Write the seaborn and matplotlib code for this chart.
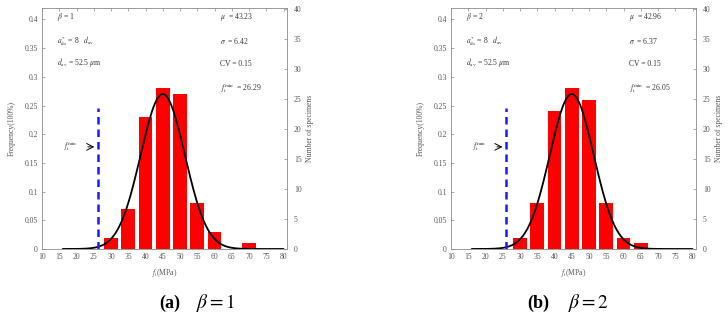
import numpy as np
import pandas as pd
import matplotlib
matplotlib.use('Agg')
import matplotlib.pyplot as plt
import seaborn as sns
from matplotlib.ticker import FormatStrFormatter

# bin centres (MPa) and frequencies
bins_a = [30, 35, 40, 45, 50, 55, 60, 65, 70]
freq_a = [0.02, 0.07, 0.23, 0.28, 0.27, 0.08, 0.03, 0.0, 0.01]
bins_b = [30, 35, 40, 45, 50, 55, 60, 65, 70]
freq_b = [0.02, 0.08, 0.24, 0.28, 0.26, 0.08, 0.02, 0.01, 0.0]

# fitted normal curve as drawn (centre / peak, sigma from labels)
curve_centre = [45.0, 45.0]
curve_peak = [0.27, 0.27]
sigma = [6.42, 6.37]
mu = [43.23, 42.96]
cv = [0.15, 0.15]
ft_min = [26.29, 26.05]
betas = [1, 2]
letters = ['a', 'b']

sns.set_theme(style='white')
plt.rcParams['font.family'] = ['Liberation Serif', 'DejaVu Serif']
plt.rcParams['mathtext.fontset'] = 'stix'

fig = plt.figure(figsize=(7.28, 3.22), dpi=100)
grey = '#8a8a8a'
fs = 5.5

lefts = [42 / 728, 451 / 728]
for i in range(2):
    ax = fig.add_axes([lefts[i], 1 - 249 / 322, 245 / 728, 241 / 322])
    bins = bins_a if i == 0 else bins_b
    freq = freq_a if i == 0 else freq_b
    df = pd.DataFrame({'x': bins, 'f': freq})
    sns.barplot(data=df, x='x', y='f', native_scale=True, width=0.8,
                color='red', saturation=1, edgecolor='none', ax=ax)

    xs = np.linspace(16, 80, 300)
    ys = curve_peak[i] * np.exp(-(xs - curve_centre[i]) ** 2 / (2 * sigma[i] ** 2))
    sns.lineplot(x=xs, y=ys, color='black', linewidth=1.3, ax=ax)

    ax.plot([ft_min[i], ft_min[i]], [0, 0.245], color='#1a1aff', linewidth=1.8,
            linestyle=(0, (3, 2)))

    ax.set_xlim(10, 81)
    ax.set_ylim(0, 0.42)
    ax.set_xticks(range(10, 81, 5))
    ax.set_yticks(np.arange(0, 0.41, 0.05))
    ax.yaxis.set_major_formatter(FormatStrFormatter('%g'))
    ax.tick_params(direction='in', length=2, width=0.5, colors=grey, labelsize=fs,
                   labelcolor='#555555', top=True, pad=3)
    for s in ax.spines.values():
        s.set_color(grey)
        s.set_linewidth(0.6)
    ax.set_xlabel(r'$f_{\rm t}$(MPa)', fontsize=fs, color='#555555', labelpad=4)
    ax.set_ylabel('Frequency(100%)', fontsize=fs, color='#555555', labelpad=6)

    ax2 = ax.twinx()
    ax2.set_ylim(0, 40.2)
    ax2.set_yticks(range(0, 41, 5))
    ax2.tick_params(direction='in', length=2, width=0.5, colors=grey, labelsize=fs,
                    labelcolor='#555555', pad=5)
    for s in ax2.spines.values():
        s.set_visible(False)
    ax2.set_ylabel('Number of specimens', fontsize=fs, color='#555555', rotation=90,
                   labelpad=3)
    ax2.grid(False)

    tc = '#333333'
    ax.text(14.3, 0.405, r'$\beta$ = %d' % betas[i], fontsize=fs, color=tc, va='center')
    ax.text(14.3, 0.362, r'$a^{*}_{\rm ds}$ = 8   $d_{\rm av}$', fontsize=fs, color=tc,
            va='center')
    ax.text(14.3, 0.325, r'$d_{\rm av}$ = 52.5 $\mu$m', fontsize=fs, color=tc, va='center')
    ax.text(61.7, 0.405, r'$\mu$  = %.2f' % mu[i], fontsize=fs, color=tc, va='center')
    ax.text(61.7, 0.362, r'$\sigma$  = %.2f' % sigma[i], fontsize=fs, color=tc, va='center')
    ax.text(61.7, 0.322, 'CV = %.2f' % cv[i], fontsize=fs, color=tc, va='center')
    ax.text(61.7, 0.28, r'$f_{\rm t}^{\rm min}$  = %.2f' % ft_min[i], fontsize=fs, color=tc,
            va='center')
    ax.annotate('', xy=(ft_min[i] - 0.3, 0.178), xytext=(22.5, 0.178),
                arrowprops=dict(arrowstyle='->', color='black', lw=0.7))
    ax.text(16.0, 0.18, r'$f_{\rm t}^{\rm min}$', fontsize=fs, color=tc, va='center')

    cx = [170, 538][i] / 728
    bx = [216, 588][i] / 728
    fig.text(cx, 0.059, '(%s)' % letters[i], fontsize=13, fontweight='bold',
             ha='center', va='center', color='black')
    fig.text(bx, 0.059, r'$\beta = %d$' % betas[i], fontsize=14, ha='center',
             va='center', color='black')

fig.savefig('out.png', dpi=100)
